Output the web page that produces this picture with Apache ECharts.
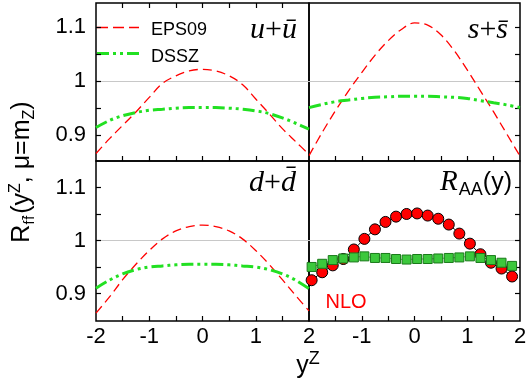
<!DOCTYPE html>
<html><head><meta charset="utf-8">
<script src="https://cdn.jsdelivr.net/npm/echarts@6/dist/echarts.min.js"></script>
<style>html,body{margin:0;padding:0;background:#fff}#c{width:532px;height:387px}</style>
</head><body><div id="c"></div>
<script>
// ---------- data ----------
const yCurve = [-2,-1.75,-1.5,-1.25,-1,-0.75,-0.5,-0.25,0,0.25,0.5,0.75,1,1.25,1.5,1.75,2];
const epsU = [0.866,0.893,0.918,0.943,0.970,0.996,1.010,1.019,1.022,1.019,1.010,0.994,0.967,0.940,0.912,0.888,0.864];
const dssU = [0.914,0.927,0.936,0.942,0.946,0.948,0.950,0.951,0.951,0.951,0.950,0.948,0.945,0.940,0.932,0.922,0.911];
const epsS = [0.862,0.905,0.945,0.982,1.016,1.048,1.075,1.096,1.108,1.104,1.086,1.057,1.021,0.982,0.943,0.902,0.861];
const dssS = [0.951,0.957,0.962,0.965,0.968,0.970,0.971,0.972,0.972,0.972,0.971,0.970,0.968,0.964,0.960,0.956,0.951];
const epsD = [0.863,0.893,0.926,0.955,0.981,1.003,1.018,1.026,1.029,1.026,1.018,1.003,0.981,0.955,0.926,0.896,0.867];
const dssD = [0.910,0.925,0.937,0.945,0.950,0.952,0.954,0.955,0.955,0.955,0.954,0.952,0.950,0.945,0.937,0.925,0.909];
const yPts = [-1.95,-1.75,-1.55,-1.35,-1.15,-0.95,-0.75,-0.55,-0.35,-0.15,0.05,0.25,0.45,0.65,0.85,1.05,1.25,1.45,1.65,1.85];
const raaNLO = [0.925,0.940,0.953,0.965,0.983,1.003,1.021,1.035,1.045,1.050,1.051,1.047,1.041,1.030,1.013,0.994,0.974,0.958,0.947,0.932];
const raaEPS = [0.950,0.956,0.963,0.966,0.968,0.970,0.967,0.967,0.965,0.964,0.965,0.965,0.966,0.967,0.968,0.970,0.967,0.963,0.958,0.952];
const xTicks = [-2,-1,0,1,2];
const xTickMarks = [-1.5,-1,-0.5,0,0.5,1,1.5];
const yTickVals = [0.9,0.95,1,1.05,1.1];
const yLabelVals = [0.9,1,1.1];
const refLevel = 1;
const legendNames = ['EPS09','DSSZ'];

// ---------- helpers ----------
const SANS = '"Liberation Sans", Arial, sans-serif';
const SERIF = '"Liberation Serif", "Times New Roman", serif';
const cv = document.createElement('canvas').getContext('2d');
function baseOff(font){cv.font=font;cv.textBaseline='alphabetic';const a=cv.measureText('H').actualBoundingBoxAscent;cv.textBaseline='middle';const b=cv.measureText('H').actualBoundingBoxAscent;return a-b;}
function seq(pieces,x0,baseY,align){
  const w=pieces.map(p=>{cv.font=p.font;return cv.measureText(p.text).width+(p.gap||0);});
  const tot=w.reduce((a,b)=>a+b,0);
  let x=align==='right'?x0-tot:align==='center'?x0-tot/2:x0;
  return pieces.map((p,i)=>{const el={type:'text',x:x+(p.dx||0),y:baseY+(p.dy||0)-baseOff(p.font),silent:true,style:{text:p.text,font:p.font,fill:p.fill||'#000',align:'left',verticalAlign:'middle'}};x+=w[i];return el;});
}
function pairs(xs,ys){return xs.map((x,i)=>[x,ys[i]]);}

const grids=[
  {left:96,top:3,width:213,height:158},
  {left:309,top:3,width:211,height:158},
  {left:96,top:161,width:213,height:160},
  {left:309,top:161,width:211,height:160}
].map(g=>Object.assign(g,{show:true,borderColor:'#000',borderWidth:1.5,backgroundColor:'transparent'}));
const yRanges=[[0.852,1.145],[0.852,1.145],[0.848,1.15],[0.848,1.15]];

const xAxes=grids.map((g,i)=>({gridIndex:i,type:'value',position:'bottom',min:-2,max:2,interval:0.5,
  axisLine:{show:false,onZero:false},splitLine:{show:false},axisTick:{show:false},
  axisLabel:{show:i>=2,margin:5,color:'#000',fontSize:22,fontFamily:SANS,
    formatter:v=>(xTicks.includes(v)&&!(i===3&&v===-2))?String(v):''}}));

const yAxes=grids.map((g,i)=>({gridIndex:i,type:'value',min:yRanges[i][0],max:yRanges[i][1],
  position:(i%2===0)?'left':'right',
  axisLine:{show:false,onZero:false},splitLine:{show:false},axisTick:{show:false},
  axisLabel:{show:i%2===0,customValues:yLabelVals,margin:10,color:'#000',fontSize:22,fontFamily:SANS,formatter:v=>String(v)}}));

// reference line at 1 plus tick marks, as markLine segments in data coordinates
const TL=5;
function markLinesFor(i){
  const g=grids[i], y0=yRanges[i][0], y1=yRanges[i][1];
  const dx=TL/g.width*4, dy=TL/g.height*(y1-y0);
  const d=[{yAxis:refLevel,lineStyle:{color:'#c8c8c8',type:'solid',width:1}}];
  const seg=(a,b)=>[{coord:a,lineStyle:{color:'#000',type:'solid',width:1.2}},{coord:b}];
  xTickMarks.forEach(v=>{
    d.push(seg([v,y0],[v,y0+dy]));
    if(i===0) d.push(seg([v,y1],[v,y1-dy]));
  });
  yTickVals.forEach(v=>{
    if(i%2===0) d.push(seg([-2,v],[-2+dx,v]));
    else d.push(seg([2,v],[2-dx,v]));
  });
  return {silent:true,symbol:['none','none'],z:1,label:{show:false},animation:false,
    lineStyle:{color:'#000',type:'solid',width:1.2},data:d};
}

const redStyle={color:'#ff0000',width:1.3,type:[9,5]};
const greenStyle={color:'#22e022',width:3,type:[12,4,3,4,3,4]};
function curve(name,i,ys,st,withMarks){
  const s={name,type:'line',xAxisIndex:i,yAxisIndex:i,data:pairs(yCurve,ys),showSymbol:false,symbol:'none',smooth:0.35,
    lineStyle:st,itemStyle:{color:st.color},z:3,silent:true};
  if(withMarks) s.markLine=markLinesFor(i);
  return s;
}
const series=[
  curve(legendNames[0],0,epsU,redStyle,true), curve(legendNames[1],0,dssU,greenStyle,false),
  curve(legendNames[0],1,epsS,redStyle,true), curve(legendNames[1],1,dssS,greenStyle,false),
  curve(legendNames[0],2,epsD,redStyle,true), curve(legendNames[1],2,dssD,greenStyle,false),
  {name:'NLO',type:'line',xAxisIndex:3,yAxisIndex:3,data:pairs(yPts,raaNLO),symbol:'circle',symbolSize:11,smooth:0.3,
    lineStyle:{color:'#000',width:1},itemStyle:{color:'#ff0000',borderColor:'#000',borderWidth:1},z:3,silent:true,
    markLine:markLinesFor(3)},
  {name:'EPS09 RAA',type:'line',xAxisIndex:3,yAxisIndex:3,data:pairs(yPts,raaEPS),symbol:'rect',symbolSize:9,smooth:0.3,
    lineStyle:{color:'#1a8a1a',width:0.8},itemStyle:{color:'#3cc83c',borderColor:'#1a7a1a',borderWidth:1},z:4,silent:true}
];

const graphics=[];
// legend (drawn)
graphics.push({type:'line',silent:true,shape:{x1:97,y1:27.5,x2:139,y2:27.5},style:{stroke:redStyle.color,lineWidth:redStyle.width,lineDash:[11,5]}});
graphics.push({type:'line',silent:true,shape:{x1:97,y1:53.5,x2:139,y2:53.5},style:{stroke:greenStyle.color,lineWidth:greenStyle.width,lineDash:greenStyle.type}});
graphics.push(...seq([{text:legendNames[0],font:'18px '+SANS}],151,35,'left'));
graphics.push(...seq([{text:legendNames[1],font:'18px '+SANS}],151,61.5,'left'));
// panel labels
graphics.push(...seq([{text:'u',font:'italic 30px '+SERIF},{text:'+',font:'30px '+SERIF},{text:'ū',font:'italic 30px '+SERIF}],297,38,'right'));
graphics.push(...seq([{text:'s',font:'italic 30px '+SERIF},{text:'+',font:'30px '+SERIF},{text:'s̄',font:'italic 30px '+SERIF}],508,38,'right'));
graphics.push(...seq([{text:'d',font:'italic 30px '+SERIF},{text:'+',font:'30px '+SERIF},{text:'d̄',font:'italic 30px '+SERIF}],296,191,'right'));
graphics.push(...seq([{text:'R',font:'italic 29px '+SERIF,gap:1},{text:'AA',font:'18px '+SANS,dy:5},{text:'(y)',font:'25px '+SANS}],512,190,'right'));
graphics.push(...seq([{text:'NLO',font:'20px '+SANS,fill:'#ff0000'}],346,308,'center'));
// x title
graphics.push(...seq([{text:'y',font:'25px '+SANS},{text:'Z',font:'18px '+SANS,dy:-9}],308,373,'center'));
// y title (rotated)
graphics.push({type:'group',x:29,y:172,rotation:Math.PI/2,children:seq([
  {text:'R',font:'25px '+SANS},{text:'f',font:'14px '+SANS,dy:5,gap:1},{text:'f̄',font:'14px '+SANS,dy:5,gap:2},{text:'(y',font:'25px '+SANS},
  {text:'Z',font:'16px '+SANS,dy:-9},{text:', μ=m',font:'25px '+SANS},{text:'Z',font:'16px '+SANS,dy:5},{text:')',font:'25px '+SANS}
],0,0,'center')});

const chart=echarts.init(document.getElementById('c'),null,{renderer:'canvas'});
chart.setOption({
  animation:false,
  backgroundColor:'#fff',
  grid:grids, xAxis:xAxes, yAxis:yAxes, series,
  graphic:graphics
});
</script></body></html>
